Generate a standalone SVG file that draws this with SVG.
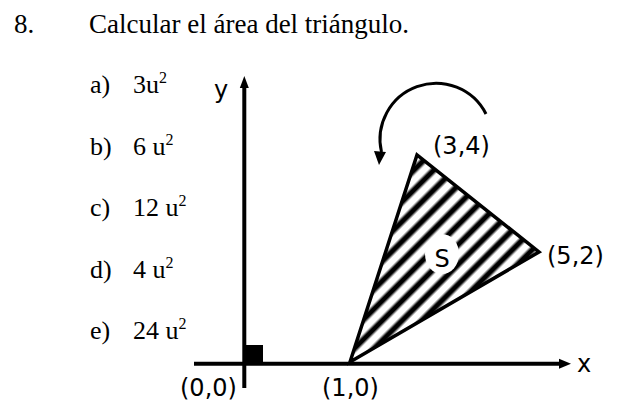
<svg xmlns="http://www.w3.org/2000/svg" width="618" height="403" viewBox="0 0 618 403">
<style>
.serif{font-family:"Liberation Serif","Times New Roman",serif;font-size:26px;fill:#000}
.title{font-size:27px}
.sans{font-family:"DejaVu Sans",Verdana,sans-serif;font-size:24px;fill:#000}
.sup{font-size:16px}
.ax{stroke:#000;stroke-width:4;fill:none}
</style>
<defs>
<linearGradient id="band" x1="0" y1="0" x2="1" y2="0">
<stop offset="0" stop-color="#fff"/>
<stop offset="0.2" stop-color="#fff"/>
<stop offset="0.38" stop-color="#000"/>
<stop offset="0.62" stop-color="#000"/>
<stop offset="0.8" stop-color="#fff"/>
<stop offset="1" stop-color="#fff"/>
</linearGradient>
<pattern id="hatch" patternUnits="userSpaceOnUse" width="14" height="14" patternTransform="rotate(45)">
<rect x="0" y="0" width="14" height="14" fill="url(#band)"/>
</pattern>
</defs>
<rect width="618" height="403" fill="#fff"/>
<g id="question">
<text class="serif title" x="14" y="33">8.</text>
<text class="serif title" x="89" y="33">Calcular el área del triángulo.</text>
</g>
<g id="options">
<text class="serif" x="90" y="93">a)</text>
<text class="serif" x="133" y="93">3u<tspan class="sup" dy="-10">2</tspan></text>
<text class="serif" x="90" y="155">b)</text>
<text class="serif" x="133" y="155">6 u<tspan class="sup" dy="-10">2</tspan></text>
<text class="serif" x="90" y="216">c)</text>
<text class="serif" x="133" y="216">12 u<tspan class="sup" dy="-10">2</tspan></text>
<text class="serif" x="90" y="278">d)</text>
<text class="serif" x="133" y="278">4 u<tspan class="sup" dy="-10">2</tspan></text>
<text class="serif" x="90" y="339">e)</text>
<text class="serif" x="133" y="339">24 u<tspan class="sup" dy="-10">2</tspan></text>
</g>
<g id="axes">
<line class="ax" x1="244.3" y1="86" x2="244.3" y2="388"/>
<polygon points="244.3,76 239.8,88 248.8,88" fill="#000"/>
<line class="ax" x1="194" y1="363.7" x2="561" y2="363.7"/>
<polygon points="571,363.7 559,358.7 559,368.7" fill="#000"/>
<rect x="244" y="345" width="19" height="18.7" fill="#000"/>
<text class="sans" x="214" y="98">y</text>
<text class="sans" x="577" y="372">x</text>
<text class="sans" x="180" y="396">(0,0)</text>
<text class="sans" x="322" y="396">(1,0)</text>
</g>
<g id="triangle">
<polygon points="350,362 417,155 539,252" fill="url(#hatch)" stroke="#000" stroke-width="3.5" stroke-linejoin="miter"/>
<ellipse cx="442" cy="254" rx="17" ry="20" fill="#fff"/>
<text class="sans" x="442" y="267" text-anchor="middle">S</text>
<text class="sans" x="433" y="154">(3,4)</text>
<text class="sans" x="547" y="264">(5,2)</text>
</g>
<g id="rotation">
<path d="M486,114 A56,56 0 0 0 381.5,152" fill="none" stroke="#000" stroke-width="3"/>
<polygon points="379,165 374,151 386,152" fill="#000"/>
</g>
</svg>
